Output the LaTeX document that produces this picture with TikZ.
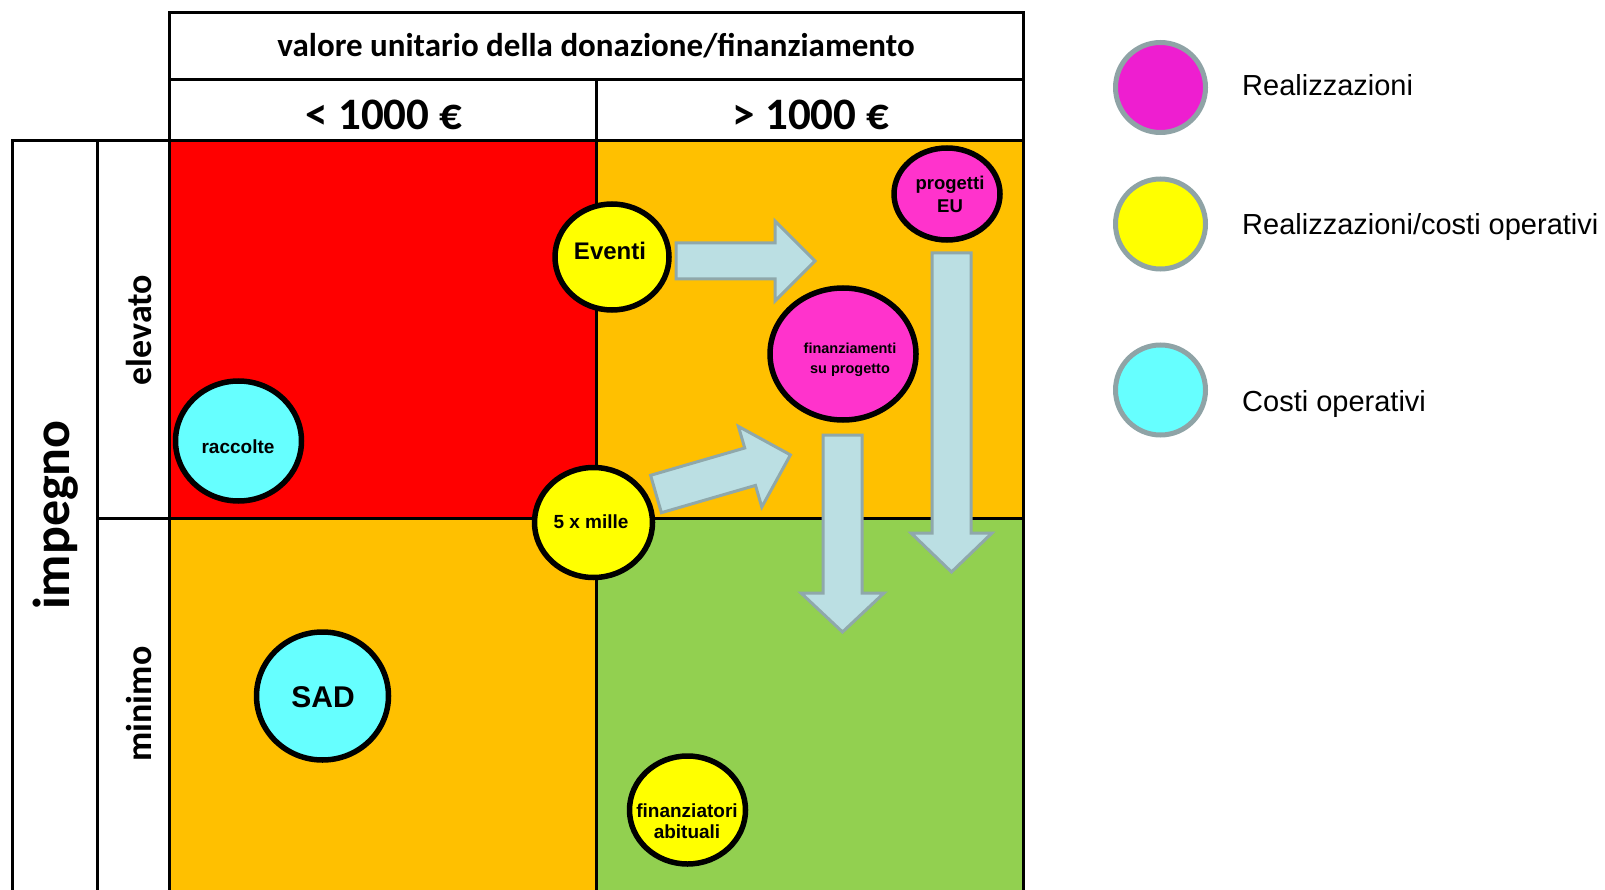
\documentclass[tikz,border=0pt]{standalone}
\usepackage{fontspec}
\setmainfont{Liberation Sans}
\newfontfamily\calib{Carlito}
\usetikzlibrary{shapes.geometric}
\newcommand\fsz[1]{\fontsize{#1}{#1}\selectfont}
\definecolor{qred}{HTML}{FF0000}
\definecolor{qorange}{HTML}{FFC000}
\definecolor{qgreen}{HTML}{92D050}
\definecolor{byellow}{HTML}{FFFF00}
\definecolor{bmagenta}{HTML}{FF33CC}
\definecolor{bcyan}{HTML}{66FFFF}
\definecolor{lmagenta}{HTML}{EE1ED0}
\definecolor{legline}{HTML}{8FA3A6}
\definecolor{arrowfill}{HTML}{BBDFE3}
\definecolor{arrowline}{HTML}{8FA8AB}
\begin{document}
\begin{tikzpicture}[x=1pt,y=-1pt,
  gridline/.style={line width=3pt, black, line cap=rect},
  bubble/.style={ellipse, draw=black, line width=5.5pt, inner sep=0pt},
  legdot/.style={circle, draw=legline, line width=5pt, inner sep=0pt, minimum size=90pt},
  blockarrow/.style={fill=arrowfill, draw=arrowline, line width=3pt, line join=miter},
  bubtext/.style={anchor=base, inner sep=0pt, font=\bfseries\fsz{#1}},
  headtext/.style={anchor=base, inner sep=0pt, font=\calib\bfseries\fsz{#1}},
  sidetext/.style={rotate=90, inner sep=0pt, font=\calib\bfseries\fsz{#1}},
  legtext/.style={anchor=base west, inner sep=0pt, font=\fsz{29}}
]
\useasboundingbox (0,0) rectangle (1605,890);

% quadrant fills
\fill[qred] (169,141) rectangle (596,518);
\fill[qorange] (596,141) rectangle (1023,518);
\fill[qorange] (169,518) rectangle (596,892);
\fill[qgreen] (596,518) rectangle (1023,892);

% grid lines
\draw[gridline] (169,13) -- (1023,13);
\draw[gridline] (169,80) -- (1023,80);
\draw[gridline] (12,141) -- (1023,141);
\draw[gridline] (97,518) -- (1023,518);
\draw[gridline] (12,141) -- (12,895);
\draw[gridline] (97,141) -- (97,895);
\draw[gridline] (169,13) -- (169,895);
\draw[gridline] (596,80) -- (596,895);
\draw[gridline] (1023,13) -- (1023,895);

% header texts
\node[headtext=33] (hdr) at (596,57) {valore unitario della donazione/finanziamento};
\node[headtext=45] (lo) at (384,130) {< 1000 €};
\node[headtext=45] (hi) at (811,130) {> 1000 €};
\node[sidetext=52] (imp) at (56,515) {impegno};
\node[sidetext=36] (elev) at (139,330) {elevato};
\node[sidetext=36] (mini) at (139,704) {minimo};

% block arrows
\draw[blockarrow] (676,243) -- (775,243) -- (775,221) -- (815,261) -- (775,301) -- (775,279) -- (676,279) -- cycle;
\draw[blockarrow] (650.6,475.3) -- (744.7,448) -- (738.4,426.4) -- (790.4,454.9) -- (761.8,507) -- (755.5,485.4) -- (661.4,512.7) -- cycle;
\draw[blockarrow] (823,435) -- (862,435) -- (862,593) -- (884,593) -- (842.5,632) -- (801,593) -- (823,593) -- cycle;
\draw[blockarrow] (932,253) -- (971,253) -- (971,533) -- (992,533) -- (951.5,572) -- (911,533) -- (932,533) -- cycle;

% bubbles
\node[bubble, fill=byellow, minimum width=114pt, minimum height=106pt] (ev) at (612,257) {};
\node[bubble, fill=bmagenta, minimum width=106pt, minimum height=92pt] (peu) at (947,194) {};
\node[bubble, fill=bmagenta, minimum width=146pt, minimum height=132pt] (fsp) at (843,354) {};
\node[bubble, fill=byellow, minimum width=118pt, minimum height=110pt] (cxm) at (593.5,522.5) {};
\node[bubble, fill=bcyan, minimum width=126pt, minimum height=120pt] (rac) at (238.5,441) {};
\node[bubble, fill=bcyan, minimum width=132pt, minimum height=128pt] (sad) at (322.5,696) {};
\node[bubble, fill=byellow, minimum width=116pt, minimum height=108pt] (fab) at (687.5,810) {};

% bubble texts
\node[bubtext=24] (evt) at (610,260) {Eventi};
\node[bubtext=18.5] (peua) at (950,190) {progetti};
\node[bubtext=18.5] (peub) at (950,213) {EU};
\node[bubtext=14.5] (fspa) at (850,353) {finanziamenti};
\node[bubtext=14.5] (fspb) at (850,373) {su progetto};
\node[bubtext=19] (cxmt) at (591,528) {5 x mille};
\node[bubtext=19] (ract) at (238,453) {raccolte};
\node[bubtext=30] (sadt) at (323,707) {SAD};
\node[bubtext=19] (faba) at (687,817) {finanziatori};
\node[bubtext=19] (fabb) at (687,838) {abituali};

% legend
\node[legdot, fill=lmagenta] (l1) at (1160.5,87.5) {};
\node[legdot, fill=byellow] (l2) at (1160.5,224) {};
\node[legdot, fill=bcyan] (l3) at (1160.5,390) {};
\node[legtext] (l1t) at (1242,96) {Realizzazioni};
\node[legtext] (l2t) at (1242,235) {Realizzazioni/costi operativi};
\node[legtext] (l3t) at (1242,411) {Costi operativi};
\end{tikzpicture}
\end{document}
